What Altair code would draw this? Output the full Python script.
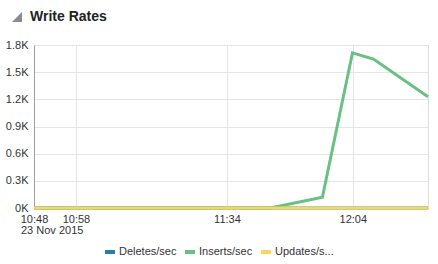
import altair as alt
import pandas as pd

times = ["2015-11-23T10:48:00", "2015-11-23T10:58:00", "2015-11-23T11:34:00",
         "2015-11-23T11:44:20", "2015-11-23T11:56:45", "2015-11-23T12:03:55",
         "2015-11-23T12:08:55", "2015-11-23T12:21:55"]
deletes = [0, 0, 0, 0, 0, 0, 0, 0]
inserts = [0, 0, 0, 0, 118, 1714, 1645, 1228]
updates = [0, 0, 0, 0, 0, 0, 0, 0]
series = ["Deletes/sec", "Inserts/sec", "Updates/s..."]
colors = ["#267db3", "#68c182", "#fad55c"]

rows = []
for name, vals in zip(series, [deletes, inserts, updates]):
    for i, (t, v) in enumerate(zip(times, vals)):
        rows.append({"time": t, "value": v, "series": name, "order": series.index(name)})
df = pd.DataFrame(rows)

def dt(h, m, s=0):
    return alt.DateTime(year=2015, month=11, date=23, hours=h, minutes=m, seconds=s)

tick_vals = [dt(10, 48), dt(10, 58), dt(11, 34), dt(12, 4)]

x = alt.X("time:T", title=None,
          scale=alt.Scale(domain=[dt(10, 48), dt(12, 21, 55)], nice=False),
          axis=alt.Axis(values=tick_vals, format="%H:%M", labelFontSize=11,
                        labelColor="#333333", labelFont="Liberation Sans",
                        ticks=False, labelPadding=5, domainColor="#9e9e9e",
                        gridColor="#e4e4ec", labelFlush=False))
y = alt.Y("value:Q", title=None,
          scale=alt.Scale(domain=[0, 1800], nice=False),
          axis=alt.Axis(values=[0, 300, 600, 900, 1200, 1500, 1800],
                        labelExpr="datum.value == 0 ? '0K' : format(datum.value/1000, '.1f') + 'K'",
                        labelFontSize=11, labelColor="#333333", labelFont="Liberation Sans",
                        ticks=False, labelPadding=6, domainColor="#9e9e9e",
                        gridColor="#e4e4ec"))

lines = alt.Chart(df).mark_line(strokeWidth=3).encode(
    x=x, y=y,
    color=alt.Color("series:N", title=None,
                    scale=alt.Scale(domain=series, range=colors),
                    legend=alt.Legend(orient="none", legendX=69, legendY=200,
                                      direction="horizontal", symbolType="stroke",
                                      symbolStrokeWidth=4, symbolSize=100,
                                      labelFontSize=11, labelColor="#333333",
                                      labelFont="Liberation Sans", columnPadding=0,
                                      labelOffset=2, labelLimit=200)),
    order="order:Q",
    detail="series:N",
)

date_text = alt.Chart(pd.DataFrame({"t": ["23 Nov 2015"]})).mark_text(
    align="left", baseline="middle", dx=-13, fontSize=11, color="#333333",
    font="Liberation Sans").encode(
    x=alt.datum(dt(10, 48)), y=alt.value(185.5), text="t:N")

title_text = alt.Chart(pd.DataFrame({"t": ["Write Rates"]})).mark_text(
    align="left", baseline="middle", fontSize=14, fontWeight="bold",
    color="#222222", font="Liberation Sans").encode(
    x=alt.value(-4), y=alt.value(-28), text="t:N")

tri = alt.Chart(pd.DataFrame({"t": [1]})).mark_point(
    shape="M 1 -1 L 1 1 L -1 1 Z", filled=True, color="#8c8c8c", opacity=1,
    size=100).encode(x=alt.value(-17), y=alt.value(-28))

chart = alt.layer(lines, date_text, title_text, tri).properties(
    width=394, height=163,
    autosize=alt.AutoSizeParams(type="none"),
    padding={"left": 34, "top": 45, "right": 10, "bottom": 56},
).configure_view(stroke=None).configure(font="Liberation Sans")

chart.save("out.html", embed_options={"renderer": "svg", "actions": False})
